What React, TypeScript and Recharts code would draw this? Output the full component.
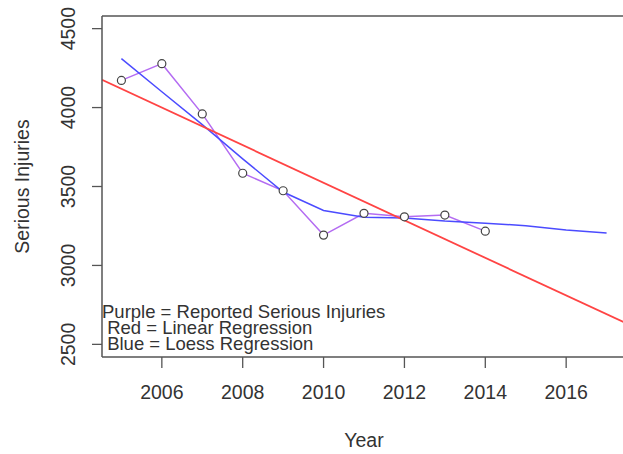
import React from 'react';
import { LineChart, Line, XAxis, YAxis, ReferenceLine } from 'recharts';

// reported serious injuries per year
const years = [2005, 2006, 2007, 2008, 2009, 2010, 2011, 2012, 2013, 2014];
const reportedInjuries = [4172, 4278, 3960, 3584, 3473, 3192, 3330, 3308, 3319, 3217];

// loess fit
const loessYears = [2005, 2006, 2007, 2008, 2009, 2010, 2011, 2012, 2013, 2014, 2015, 2016, 2017];
const loessFit = [4310, 4100, 3892, 3675, 3465, 3348, 3306, 3300, 3281, 3268, 3252, 3224, 3205];

// linear regression line, ends at the plot edges
const linearYears = [2004.52, 2017.48];
const linearFit = [4176, 2634];

const xTicks = [2006, 2008, 2010, 2012, 2014, 2016];
const yTicks = [2500, 3000, 3500, 4000, 4500];
const xRange = [2004.52, 2017.48];
const yRange = [2420, 4580];

const noteLines = [
  'Purple = Reported Serious Injuries',
  ' Red = Linear Regression',
  ' Blue = Loess Regression',
];

const FONT = '"Liberation Sans", Arial, sans-serif';
const TEXT = '#333';
const AXIS = '#555';

const reportedData = years.map((year, i) => ({ year, value: reportedInjuries[i] }));
const loessData = loessYears.map((year, i) => ({ year, value: loessFit[i] }));
const linearData = linearYears.map((year, i) => ({ year, value: linearFit[i] }));

function YTick({ x, y, payload }: any) {
  return (
    <text
      x={x}
      y={y}
      transform={`rotate(-90, ${x}, ${y})`}
      textAnchor="middle"
      fill={TEXT}
      fontSize={19.5}
      fontFamily={FONT}
    >
      {payload.value}
    </text>
  );
}

export default function App() {
  return (
    <div
      style={{
        position: 'absolute',
        left: 0,
        top: 0,
        width: 623,
        height: 454,
        overflow: 'hidden',
        background: '#fff',
      }}
    >
      <LineChart width={640} height={454} margin={{ top: 16, right: 14, bottom: 0, left: 0 }}>
        <XAxis
          dataKey="year"
          type="number"
          domain={xRange}
          ticks={xTicks}
          allowDataOverflow
          height={97}
          tickSize={11}
          tickMargin={17}
          axisLine={{ stroke: AXIS, strokeWidth: 1.5 }}
          tickLine={{ stroke: AXIS, strokeWidth: 1.3 }}
          tick={{ fill: TEXT, fontSize: 19.5, fontFamily: FONT }}
        />
        <YAxis
          dataKey="value"
          type="number"
          domain={yRange}
          ticks={yTicks}
          allowDataOverflow
          width={102}
          tickSize={10}
          tickMargin={17}
          axisLine={{ stroke: AXIS, strokeWidth: 1.5 }}
          tickLine={{ stroke: AXIS, strokeWidth: 1.3 }}
          tick={<YTick />}
        />
        <ReferenceLine y={yRange[1]} stroke={AXIS} strokeWidth={1.5} />
        <Line
          data={reportedData}
          dataKey="value"
          stroke="#b46cf2"
          strokeWidth={1.5}
          dot={{ r: 4, stroke: '#444', strokeWidth: 1.2, fill: '#fff' }}
          isAnimationActive={false}
        />
        <Line
          data={loessData}
          dataKey="value"
          stroke="#4b4bff"
          strokeWidth={1.5}
          dot={false}
          isAnimationActive={false}
        />
        <Line
          data={linearData}
          dataKey="value"
          stroke="#ff4444"
          strokeWidth={1.8}
          dot={false}
          isAnimationActive={false}
        />
        <text
          x={29}
          y={186.5}
          transform="rotate(-90, 29, 186.5)"
          textAnchor="middle"
          fill={TEXT}
          fontSize={19.5}
          fontFamily={FONT}
        >
          Serious Injuries
        </text>
        <text x={364} y={447} textAnchor="middle" fill={TEXT} fontSize={19.5} fontFamily={FONT}>
          Year
        </text>
        {noteLines.map((line, i) => (
          <text
            key={line}
            x={102}
            y={318 + i * 16}
            fill={TEXT}
            fontSize={18.5}
            fontFamily={FONT}
            style={{ whiteSpace: 'pre' }}
          >
            {line}
          </text>
        ))}
      </LineChart>
    </div>
  );
}
